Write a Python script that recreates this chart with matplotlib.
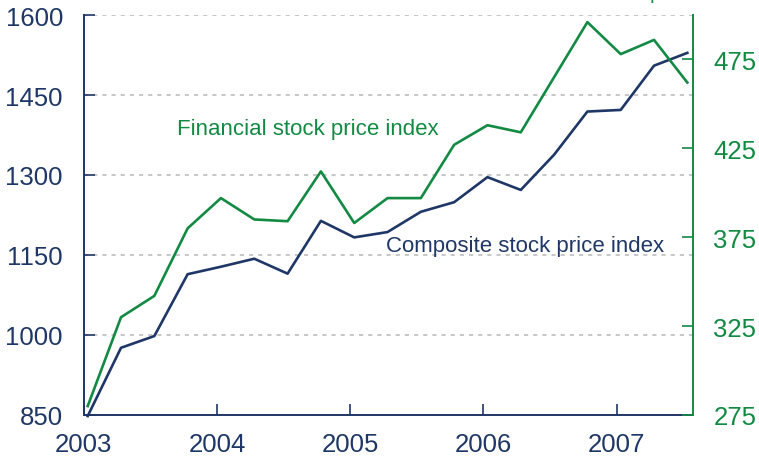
import matplotlib.pyplot as plt

# --------------------
# Data (quarterly)
# --------------------
dates = [2003.03, 2003.28, 2003.53, 2003.78, 2004.03, 2004.28, 2004.53,
         2004.78, 2005.03, 2005.28, 2005.53, 2005.78, 2006.03, 2006.28,
         2006.53, 2006.78, 2007.03, 2007.28, 2007.53]
composite = [848, 976, 998, 1114, 1128, 1143, 1115, 1214, 1183, 1193,
             1231, 1249, 1296, 1272, 1338, 1419, 1422, 1505, 1529]
financial = [280, 330, 342, 380, 397, 385, 384, 412, 383, 397,
             397, 427, 438, 434, 465, 496, 478, 486, 462]

left_ticks = [850, 1000, 1150, 1300, 1450, 1600]
right_ticks = [275, 325, 375, 425, 475]
year_ticks = [2003, 2004, 2005, 2006, 2007]

NAVY = "#1f3766"
GREEN = "#138a43"
GRID = "#bdbdbd"

plt.rcParams["font.family"] = ["Liberation Sans", "DejaVu Sans"]

fig = plt.figure(figsize=(7.59, 4.6), dpi=100)
ax = fig.add_axes([0.1103, 0.0957, 0.8023, 0.8695])
ax2 = ax.twinx()

# --------------------
# Lines
# --------------------
ax.plot(dates, composite, color=NAVY, linewidth=1.9, clip_on=False, zorder=3)
ax2.plot(dates, financial, color=GREEN, linewidth=1.9, clip_on=False, zorder=3)

# --------------------
# Axes ranges / ticks
# --------------------
ax.set_xlim(2003, 2007.57)
ax.set_ylim(850, 1600)
ax2.set_ylim(275, 500)

ax.set_xticks(year_ticks)
ax.set_yticks(left_ticks)
ax2.set_yticks(right_ticks)

ax.tick_params(axis="y", direction="in", length=8, width=1.2, color=NAVY,
               labelcolor=NAVY, labelsize=18.5, pad=15)
ax.tick_params(axis="x", direction="in", length=8, width=1.2, color=NAVY,
               labelcolor=NAVY, labelsize=18.5, pad=12)
ax2.tick_params(axis="y", direction="in", length=8, width=1.2, color=GREEN,
                labelcolor=GREEN, labelsize=18.5, pad=15)

# gridlines at the left-axis ticks (dashed grey)
for v in left_ticks[1:]:
    ax.axhline(v, color=GRID, linestyle=(0, (2.5, 3)), linewidth=1.2, zorder=1)

# --------------------
# Spines
# --------------------
for a in (ax, ax2):
    a.spines["top"].set_visible(False)
ax.spines["left"].set_color(NAVY)
ax.spines["bottom"].set_color(NAVY)
ax.spines["left"].set_linewidth(1.4)
ax.spines["bottom"].set_linewidth(1.4)
ax.spines["right"].set_visible(False)
ax2.spines["left"].set_visible(False)
ax2.spines["bottom"].set_visible(False)
ax2.spines["right"].set_color(GREEN)
ax2.spines["right"].set_linewidth(1.4)

# --------------------
# Labels
# --------------------
ax.text(2003.70, 1377, "Financial stock price index", color=GREEN,
        fontsize=16, va="baseline", ha="left")
ax.text(2005.27, 1157, "Composite stock price index", color=NAVY,
        fontsize=16, va="baseline", ha="left")

# axis title above the right axis, cut off by the top edge as in the source
fig.text(0.985, 1.003, "Stock price index", color=GREEN, fontsize=14.5,
         ha="right", va="baseline")

fig.savefig("out.png", dpi=100)
